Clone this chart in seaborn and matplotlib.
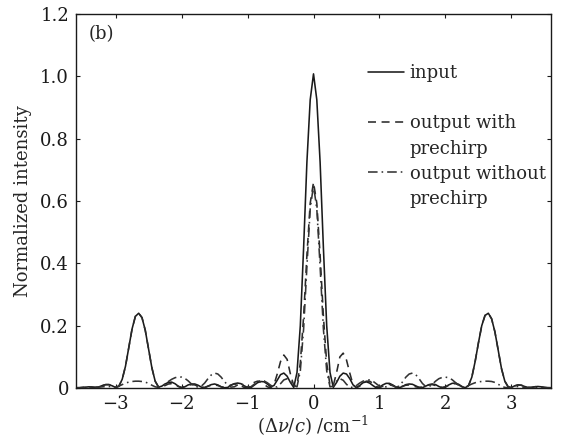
import numpy as np
import pandas as pd
import matplotlib
matplotlib.use("Agg")
import matplotlib.pyplot as plt
from matplotlib.lines import Line2D
import seaborn as sns

# ---------------- data ----------------
freq = np.round(np.arange(-3.6, 3.6001, 0.05), 2)   # (Δν/c) sampling grid, cm^-1

input_neg = [0.001, 0.001, 0.002, 0.003, 0.004, 0.003, 0.002, 0.004, 0.008, 0.011,
             0.011, 0.007, 0.002, 0.006, 0.028, 0.070, 0.130, 0.190, 0.230, 0.240,
             0.226, 0.185, 0.125, 0.065, 0.022, 0.003, 0.006, 0.013, 0.018, 0.019,
             0.014, 0.006, 0.001, 0.004, 0.010, 0.013, 0.013, 0.009, 0.003, 0.001,
             0.006, 0.011, 0.013, 0.010, 0.004, 0.001, 0.002, 0.009, 0.014, 0.016,
             0.014, 0.007, 0.002, 0.001, 0.009, 0.017, 0.021, 0.020, 0.013, 0.004,
             0.008, 0.025, 0.043, 0.048, 0.038, 0.018, 0.002, 0.050, 0.200, 0.450,
             0.725, 0.925]
input_pos = [1.008,
             0.925, 0.725, 0.450, 0.200, 0.050, 0.002, 0.018, 0.038, 0.048, 0.045,
             0.030, 0.010, 0.002, 0.008, 0.017, 0.020, 0.016, 0.008, 0.001, 0.003,
             0.010, 0.015, 0.015, 0.010, 0.003, 0.001, 0.005, 0.011, 0.013, 0.012,
             0.007, 0.002, 0.001, 0.006, 0.011, 0.013, 0.011, 0.005, 0.001, 0.003,
             0.010, 0.015, 0.016, 0.012, 0.005, 0.001, 0.008, 0.035, 0.085, 0.145,
             0.200, 0.233, 0.240, 0.222, 0.180, 0.120, 0.062, 0.022, 0.004, 0.002,
             0.007, 0.010, 0.009, 0.005, 0.002, 0.002, 0.004, 0.005, 0.004, 0.002,
             0.001, 0.001]

with_neg = [0.001, 0.001, 0.002, 0.003, 0.004, 0.003, 0.002, 0.004, 0.008, 0.011,
            0.011, 0.007, 0.002, 0.006, 0.028, 0.070, 0.130, 0.190, 0.230, 0.240,
            0.226, 0.185, 0.125, 0.065, 0.022, 0.004, 0.003, 0.008, 0.013, 0.014,
            0.011, 0.005, 0.002, 0.005, 0.009, 0.011, 0.010, 0.006, 0.002, 0.002,
            0.006, 0.009, 0.010, 0.008, 0.004, 0.002, 0.005, 0.010, 0.013, 0.012,
            0.007, 0.002, 0.003, 0.010, 0.018, 0.022, 0.020, 0.012, 0.004, 0.001,
            0.010, 0.045, 0.085, 0.106, 0.092, 0.045, 0.008, 0.009, 0.080, 0.230,
            0.426, 0.593]
with_pos = [0.660,
            0.593, 0.426, 0.230, 0.080, 0.009, 0.008, 0.050, 0.100, 0.112, 0.090,
            0.048, 0.010, 0.001, 0.006, 0.016, 0.022, 0.022, 0.015, 0.005, 0.001,
            0.006, 0.011, 0.012, 0.008, 0.003, 0.002, 0.006, 0.009, 0.010, 0.008,
            0.004, 0.002, 0.003, 0.007, 0.010, 0.011, 0.008, 0.004, 0.002, 0.004,
            0.009, 0.013, 0.014, 0.010, 0.004, 0.001, 0.008, 0.035, 0.085, 0.145,
            0.200, 0.233, 0.240, 0.222, 0.180, 0.120, 0.062, 0.022, 0.004, 0.002,
            0.007, 0.010, 0.009, 0.005, 0.002, 0.002, 0.004, 0.005, 0.004, 0.002,
            0.001, 0.001]

without_neg = [0.001, 0.001, 0.001, 0.002, 0.002, 0.002, 0.002, 0.003, 0.004, 0.005,
               0.005, 0.004, 0.003, 0.006, 0.011, 0.016, 0.019, 0.021, 0.022, 0.022,
               0.021, 0.019, 0.015, 0.009, 0.004, 0.002, 0.006, 0.013, 0.021, 0.028,
               0.033, 0.036, 0.035, 0.031, 0.023, 0.013, 0.006, 0.003, 0.006, 0.016,
               0.030, 0.042, 0.048, 0.045, 0.035, 0.021, 0.009, 0.003, 0.004, 0.010,
               0.013, 0.010, 0.004, 0.004, 0.012, 0.020, 0.024, 0.023, 0.017, 0.009,
               0.003, 0.004, 0.014, 0.026, 0.030, 0.022, 0.008, 0.004, 0.055, 0.190,
               0.390, 0.575]
without_pos = [0.650,
               0.575, 0.390, 0.190, 0.055, 0.004, 0.006, 0.022, 0.030, 0.025, 0.012,
               0.003, 0.002, 0.008, 0.016, 0.022, 0.025, 0.026, 0.022, 0.014, 0.006,
               0.002, 0.004, 0.010, 0.008, 0.003, 0.006, 0.020, 0.035, 0.045, 0.048,
               0.043, 0.030, 0.015, 0.005, 0.004, 0.012, 0.022, 0.030, 0.034, 0.035,
               0.033, 0.027, 0.018, 0.009, 0.003, 0.003, 0.008, 0.013, 0.017, 0.020,
               0.021, 0.022, 0.022, 0.021, 0.018, 0.012, 0.006, 0.002, 0.001, 0.002,
               0.004, 0.005, 0.004, 0.002, 0.001, 0.001, 0.001, 0.001, 0.001, 0.001,
               0.001, 0.001]

series_names = ["input", "output with prechirp", "output without prechirp"]
legend_labels = ["input", "output with", "prechirp", "output without", "prechirp"]
x_ticks = [-3, -2, -1, 0, 1, 2, 3]
x_tick_labels = ["\u22123", "\u22122", "\u22121", "0", "1", "2", "3"]
y_ticks = [0, 0.2, 0.4, 0.6, 0.8, 1.0, 1.2]
y_tick_labels = ["0", "0.2", "0.4", "0.6", "0.8", "1.0", "1.2"]

values = {
    "input": input_neg + input_pos,
    "output with prechirp": with_neg + with_pos,
    "output without prechirp": without_neg + without_pos,
}
df = pd.concat(
    [pd.DataFrame({"x": freq, "y": values[n], "series": n}) for n in series_names],
    ignore_index=True,
)

# ---------------- style ----------------
sns.set_theme(style="ticks")
plt.rcParams["font.family"] = ["DejaVu Serif"]
plt.rcParams["mathtext.fontset"] = "dejavuserif"
plt.rcParams["axes.linewidth"] = 1.0
plt.rcParams["xtick.direction"] = "in"
plt.rcParams["ytick.direction"] = "in"

FS = 13

fig = plt.figure(figsize=(5.66, 4.45), dpi=100)
ax = fig.add_axes([0.1343, 0.128, 0.8392, 0.8405])

line_color = {"input": "#1a1a1a", "output with prechirp": "#2a2a2a",
              "output without prechirp": "#333333"}
dash_map = {"input": "", "output with prechirp": (5, 3.5),
            "output without prechirp": (6, 2.5, 1, 2.5)}

sns.lineplot(data=df, x="x", y="y", hue="series", style="series",
             hue_order=series_names, style_order=series_names,
             palette=line_color, dashes=dash_map, estimator=None, sort=False,
             linewidth=1.15, legend=False, ax=ax)

ax.set_xlim(-3.6, 3.6)
ax.set_ylim(0, 1.2)
ax.set_xticks(x_ticks)
ax.set_xticklabels(x_tick_labels)
ax.set_yticks(y_ticks)
ax.set_yticklabels(y_tick_labels)
ax.tick_params(axis="both", which="both", direction="in", length=3, width=0.8,
               top=True, right=True, labelsize=FS, colors="#1a1a1a", pad=5)
for s in ax.spines.values():
    s.set_visible(True)
    s.set_color("#1a1a1a")

ax.set_xlabel(r"$(\Delta\nu/c)$ /cm$^{-1}$", fontsize=FS, labelpad=1)
ax.set_ylabel("Normalized intensity", fontsize=FS, labelpad=6)
ax.text(0.027, 0.947, "(b)", transform=ax.transAxes, fontsize=FS,
        ha="left", va="center")

# legend (no frame, two-line labels with handle on first line)
lines = ax.get_lines()
blank = Line2D([], [], linestyle="none")
handles = [lines[0], blank, lines[1], blank, lines[2], blank]
labels = ["input", "", legend_labels[1], legend_labels[2],
          legend_labels[3], legend_labels[4]]
ax.legend(handles, labels, loc="upper left", bbox_to_anchor=(0.6, 0.886),
          frameon=False, fontsize=FS, handlelength=2.0, handletextpad=0.3,
          labelspacing=0.40, borderaxespad=0.0)

fig.savefig("out.png", dpi=100)
